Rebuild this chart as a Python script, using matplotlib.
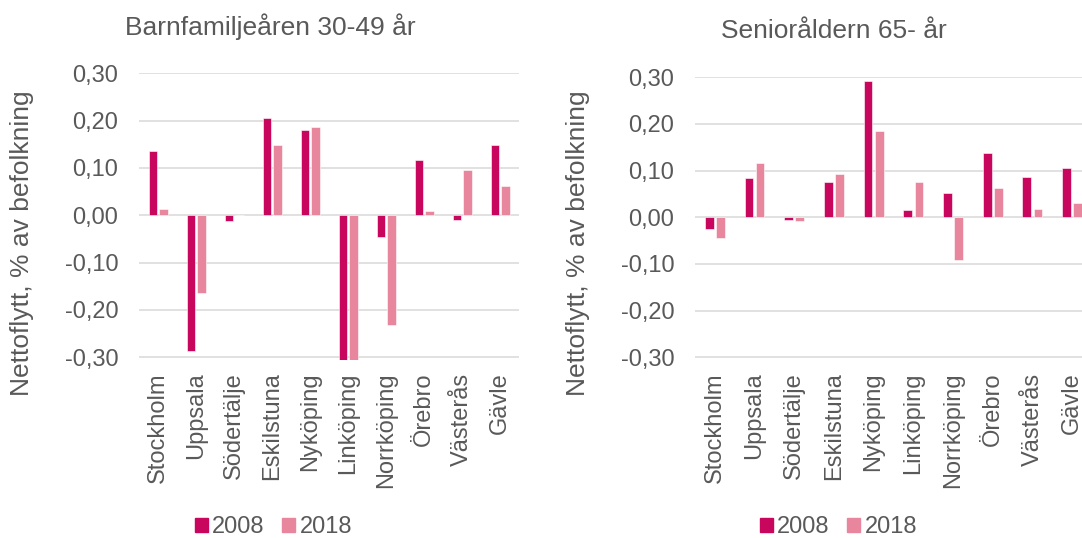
import numpy as np
import matplotlib
matplotlib.use("Agg")
import matplotlib.pyplot as plt
from matplotlib.patches import Patch

plt.rcParams['font.family'] = ['Liberation Sans', 'DejaVu Sans']

cities = ['Stockholm', 'Uppsala', 'Södertälje', 'Eskilstuna', 'Nyköping',
          'Linköping', 'Norrköping', 'Örebro', 'Västerås', 'Gävle']

# Barnfamiljeåren 30-49 år
barn_2008 = [0.135, -0.287, -0.012, 0.205, 0.181, -0.31, -0.045, 0.117, -0.011, 0.148]
barn_2018 = [0.013, -0.165, 0.0, 0.148, 0.187, -0.31, -0.232, 0.009, 0.096, 0.062]

# Senioråldern 65- år
sen_2008 = [-0.026, 0.085, -0.006, 0.075, 0.291, 0.016, 0.051, 0.137, 0.086, 0.105]
sen_2018 = [-0.044, 0.116, -0.007, 0.092, 0.185, 0.076, -0.091, 0.062, 0.017, 0.030]

yticks = [-0.3, -0.2, -0.1, 0.0, 0.1, 0.2, 0.3]
ytick_labels = ['-0,30', '-0,20', '-0,10', '0,00', '0,10', '0,20', '0,30']

c08 = '#C8065E'
c18 = '#E8869E'
grey = '#595959'

fig = plt.figure(figsize=(10.82, 5.38), dpi=100)
ax1 = fig.add_axes([0.1285, 0.3307, 0.3512, 0.5331])
ax2 = fig.add_axes([0.6423, 0.3307, 0.3669, 0.5257])

x = np.arange(len(cities))
w = 0.22
off = 0.14

for ax, d08, d18 in [(ax1, barn_2008, barn_2018), (ax2, sen_2008, sen_2018)]:
    ax.bar(x - off, d08, w, color=c08, edgecolor='white', linewidth=0.4, zorder=3)
    ax.bar(x + off, d18, w, color=c18, edgecolor='white', linewidth=0.4, zorder=3)
    ax.set_xlim(-0.5, len(cities) - 0.5)
    ax.set_ylim(-0.306, 0.30)
    ax.set_yticks(yticks)
    ax.set_yticklabels(ytick_labels)
    ax.set_xticks(x)
    ax.set_xticklabels(cities, rotation=90)
    ax.tick_params(axis='y', length=0, pad=15, labelsize=17, labelcolor=grey)
    ax.tick_params(axis='x', length=0, pad=9, labelsize=17, labelcolor=grey)
    for s in ax.spines.values():
        s.set_visible(False)
    ax.grid(axis='y', color='#D9D9D9', linewidth=1.1, zorder=0)
    ax.set_axisbelow(True)

fig.text(22 / 1082, 1 - 243 / 538, 'Nettoflytt, % av befolkning', rotation=90,
         ha='center', va='center', fontsize=19, color=grey)
fig.text(578 / 1082, 1 - 243 / 538, 'Nettoflytt, % av befolkning', rotation=90,
         ha='center', va='center', fontsize=19, color=grey)

fig.text(270 / 1082, 1 - 27 / 538, 'Barnfamiljeåren 30-49 år', ha='center', va='center',
         fontsize=19, color=grey)
fig.text(834 / 1082, 1 - 31 / 538, 'Senioråldern 65- år', ha='center', va='center',
         fontsize=19, color=grey)

handles = [Patch(color=c08, label='2008'), Patch(color=c18, label='2018')]
for cx in (273.5, 838.5):
    leg = fig.legend(handles=handles, loc='center', bbox_to_anchor=(cx / 1082, 1 - 527 / 538),
                     ncol=2, frameon=False, fontsize=17, handlelength=0.55, handleheight=0.55,
                     handletextpad=0.17, columnspacing=0.76, borderpad=0)
    for t in leg.get_texts():
        t.set_color(grey)

fig.savefig('out.png', dpi=100)
